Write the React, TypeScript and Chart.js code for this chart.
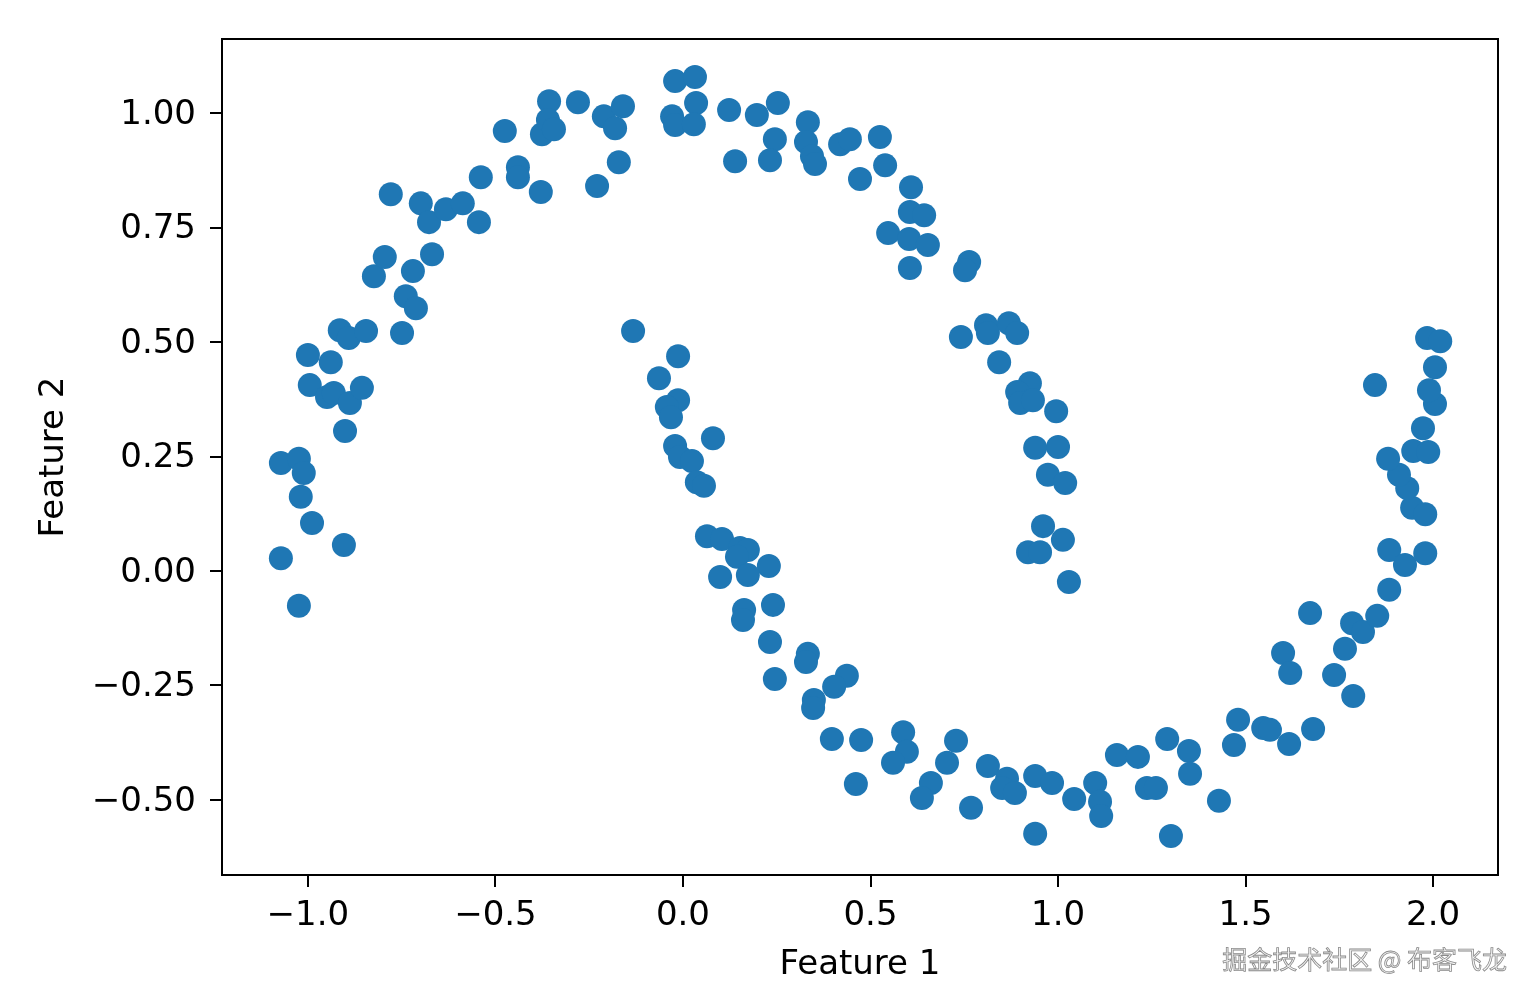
import React, { useEffect, useRef } from "react";
import { Chart, registerables } from "chart.js";

Chart.register(...registerables);

// Feature 1 / Feature 2 values (two interleaving moons)
const featureX: number[] = [
  -1.072, -1.024, -1.072, -1.024, -1.011, -1.019, -0.989, -0.904, -0.901, -1.0,
  -0.995, -0.949, -0.939, -0.931, -0.888, -0.856, -0.915, -0.891, -0.845, -0.749,
  -0.824, -0.795, -0.72, -0.739, -0.712, -0.669, -0.779, -0.699, -0.677, -0.632,
  -0.587, -0.544, -0.539, -0.475, -0.44, -0.44, -0.379, -0.376, -0.357, -0.36,
  -0.344, -0.28, -0.229, -0.211, -0.181, -0.16, -0.171, -0.021, 0.032, 0.035,
  -0.029, -0.021, 0.029, 0.123, 0.197, 0.253, 0.245, 0.232, 0.139, 0.333,
  0.328, 0.344, 0.352, 0.419, 0.445, 0.472, 0.525, 0.539, 0.608, 0.605,
  0.643, 0.547, 0.603, 0.653, 0.605, 0.763, 0.752, 0.741, 0.808, 0.813,
  0.869, 0.891, 0.843, 0.925, 0.891, 0.899, 0.933, 0.995, 0.939, 1.0,
  0.973, 1.019, 0.96, 1.013, 0.92, 0.952, 1.029,
  -0.133, -0.013, -0.064, -0.013, -0.043, -0.032, 0.08, -0.021, -0.008, 0.024,
  0.037, 0.056, 0.064, 0.104, 0.152, 0.173, 0.144, 0.229, 0.099, 0.173,
  0.24, 0.163, 0.16, 0.232, 0.333, 0.328, 0.245, 0.437, 0.403, 0.349,
  0.347, 0.397, 0.475, 0.587, 0.597, 0.56, 0.728, 0.704, 0.661, 0.637,
  0.461, 0.768, 0.813, 0.864, 0.851, 0.885, 0.939, 0.984, 0.939, 1.043,
  1.099, 1.112, 1.115, 1.157, 1.213, 1.237, 1.261, 1.291, 1.349, 1.352,
  1.301, 1.429, 1.48, 1.469, 1.547, 1.565, 1.616, 1.68, 1.6, 1.619,
  1.672, 1.736, 1.787, 1.765, 1.784, 1.813, 1.851, 1.883, 1.883, 1.925,
  1.979, 1.944, 1.979, 1.931, 1.909, 1.88, 1.947, 1.987, 1.973, 2.005,
  1.989, 1.845, 2.005, 1.984, 2.019,
];

const featureY: number[] = [
  0.028, -0.076, 0.236, 0.245, 0.214, 0.162, 0.105, 0.057, 0.306, 0.472,
  0.406, 0.38, 0.456, 0.389, 0.367, 0.4, 0.526, 0.509, 0.524, 0.52,
  0.644, 0.686, 0.655, 0.6, 0.574, 0.692, 0.823, 0.803, 0.762, 0.79,
  0.803, 0.762, 0.86, 0.961, 0.882, 0.86, 0.828, 0.954, 1.026, 0.985,
  0.965, 1.024, 0.841, 0.993, 0.967, 1.015, 0.893, 1.07, 1.079, 1.022,
  0.993, 0.974, 0.976, 1.007, 0.996, 1.022, 0.943, 0.897, 0.895, 0.98,
  0.937, 0.906, 0.889, 0.932, 0.943, 0.856, 0.948, 0.886, 0.838, 0.784,
  0.777, 0.738, 0.725, 0.712, 0.662, 0.675, 0.657, 0.511, 0.537, 0.52,
  0.541, 0.52, 0.456, 0.41, 0.391, 0.367, 0.373, 0.349, 0.269, 0.271,
  0.21, 0.192, 0.098, 0.068, 0.041, 0.041, -0.024,
  0.524, 0.469, 0.421, 0.373, 0.358, 0.336, 0.29, 0.273, 0.249, 0.24,
  0.194, 0.186, 0.076, 0.07, 0.05, 0.046, 0.031, 0.011, -0.013, -0.009,
  -0.074, -0.085, -0.107, -0.155, -0.181, -0.199, -0.236, -0.229, -0.253, -0.282,
  -0.299, -0.367, -0.369, -0.352, -0.395, -0.419, -0.371, -0.419, -0.463, -0.496,
  -0.465, -0.517, -0.426, -0.454, -0.474, -0.485, -0.448, -0.463, -0.574, -0.498,
  -0.463, -0.504, -0.535, -0.402, -0.406, -0.474, -0.474, -0.367, -0.393, -0.443,
  -0.579, -0.502, -0.325, -0.38, -0.343, -0.347, -0.378, -0.345, -0.179, -0.223,
  -0.092, -0.227, -0.273, -0.17, -0.114, -0.133, -0.098, -0.041, 0.046, 0.013,
  0.039, 0.138, 0.124, 0.181, 0.21, 0.245, 0.262, 0.26, 0.312, 0.365,
  0.395, 0.406, 0.445, 0.509, 0.502,
];

const xTicks: number[] = [-1.0, -0.5, 0.0, 0.5, 1.0, 1.5, 2.0];
const yTicks: number[] = [-0.5, -0.25, 0.0, 0.25, 0.5, 0.75, 1.0];

const xTitle = "Feature 1";
const yTitle = "Feature 2";
const watermark = "掘金技术社区 @ 布客飞龙";

const fmt = (v: number, d: number) => {
  const s = Math.abs(v).toFixed(d);
  return v < -1e-9 ? "\u2212" + s : s;
};

const framePlugin = {
  id: "frame",
  afterDraw(chart: any) {
    const { ctx, chartArea } = chart;
    ctx.save();
    ctx.strokeStyle = "#000";
    ctx.lineWidth = 2;
    ctx.strokeRect(chartArea.left, chartArea.top, chartArea.right - chartArea.left, chartArea.bottom - chartArea.top);
    ctx.restore();
  },
};

export default function App() {
  const ref = useRef<HTMLCanvasElement | null>(null);

  useEffect(() => {
    if (!ref.current) return;
    const points = featureX.map((x, i) => ({ x, y: featureY[i] }));
    const font = { family: "'DejaVu Sans', sans-serif", size: 34 };
    const chart = new Chart(ref.current, {
      type: "scatter",
      data: {
        datasets: [
          {
            data: points,
            backgroundColor: "#1f77b4",
            borderColor: "#1f77b4",
            borderWidth: 0,
            pointRadius: 12,
            pointHoverRadius: 12,
          },
        ],
      },
      options: {
        animation: false,
        responsive: false,
        devicePixelRatio: 1,
        layout: { padding: { top: 39, right: 37, left: 0, bottom: 0 } },
        plugins: { legend: { display: false }, tooltip: { enabled: false } },
        scales: {
          x: {
            type: "linear",
            min: -1.229,
            max: 2.173,
            afterBuildTicks: (s: any) => {
              s.ticks = xTicks.map((v) => ({ value: v }));
            },
            afterFit: (s: any) => {
              s.height = 124;
            },
            ticks: {
              color: "#000",
              font,
              padding: 9,
              maxRotation: 0,
              autoSkip: false,
              callback: (v: any) => fmt(Number(v), 1),
            },
            grid: { drawOnChartArea: false, drawTicks: true, tickLength: 12, color: "#000", lineWidth: 2 },
            border: { display: false },
            title: { display: true, text: xTitle, color: "#000", font, padding: { top: 0, bottom: 13 } },
          },
          y: {
            type: "linear",
            min: -0.664,
            max: 1.162,
            afterBuildTicks: (s: any) => {
              s.ticks = yTicks.map((v) => ({ value: v }));
            },
            afterFit: (s: any) => {
              s.width = 222;
            },
            ticks: {
              color: "#000",
              font,
              padding: 14,
              labelOffset: 2,
              autoSkip: false,
              callback: (v: any) => fmt(Number(v), 2),
            },
            grid: { drawOnChartArea: false, drawTicks: true, tickLength: 12, color: "#000", lineWidth: 2 },
            border: { display: false },
            title: { display: true, text: yTitle, color: "#000", font, padding: { top: 34, bottom: 0 } },
          },
        },
      },
      plugins: [framePlugin],
    });
    return () => chart.destroy();
  }, []);

  return (
    <div style={{ position: "fixed", left: 0, top: 0, width: 1535, height: 999, background: "#fff" }}>
      <canvas ref={ref} width={1535} height={999} style={{ width: 1535, height: 999, display: "block" }} />
      <div
        style={{
          position: "absolute",
          right: 28,
          top: 940,
          fontFamily: "'Noto Sans CJK SC', sans-serif",
          fontSize: 25,
          lineHeight: "36px",
          color: "#f4f4f4",
          WebkitTextStroke: "0.8px #8a8a8a",
          whiteSpace: "nowrap",
        }}
      >
        {watermark}
      </div>
    </div>
  );
}
